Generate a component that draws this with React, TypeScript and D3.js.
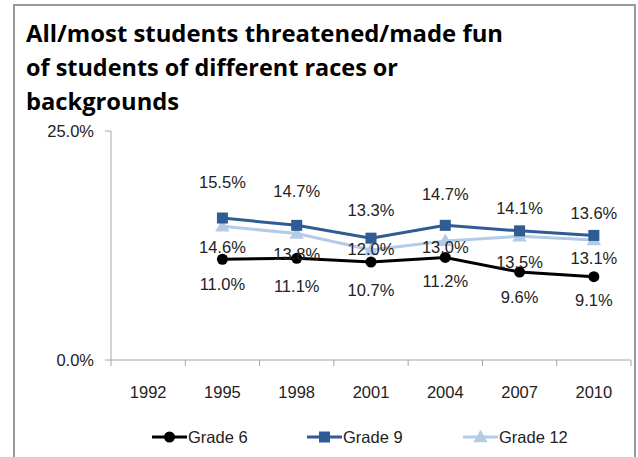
import React from "react";
import * as d3 from "d3";

// Survey years (category axis) and the share of grades reporting the behaviour
const years = ["1992", "1995", "1998", "2001", "2004", "2007", "2010"];
const grade6 = [null, 11.0, 11.1, 10.7, 11.2, 9.6, 9.1];
const grade9 = [null, 15.5, 14.7, 13.3, 14.7, 14.1, 13.6];
const grade12 = [null, 14.6, 13.8, 12.0, 13.0, 13.5, 13.1];
const yTicks = [0, 25];

// Vertical nudges of each data label relative to its point (px)
const grade6LabelDy = [0, 31, 34, 34, 30, 31, 29];
const grade9LabelDy = [0, -30, -28, -22, -25, -17, -16];
const grade12LabelDy = [0, 27, 26, 5, 12, 32, 24];

const titleLines = [
  "All/most students threatened/made fun",
  "of students of different races or",
  "backgrounds",
];
const titleWidths = [477, 372, 153];

const W = 638;
const H = 457;
const FONT = "'Liberation Sans', Arial, sans-serif";
const FS = 16.5;

type Series = {
  name: string;
  values: (number | null)[];
  color: string;
  marker: "circle" | "square" | "triangle";
  dy: number[];
};

const series: Series[] = [
  { name: "Grade 6", values: grade6, color: "#000000", marker: "circle", dy: grade6LabelDy },
  { name: "Grade 9", values: grade9, color: "#2F5C94", marker: "square", dy: grade9LabelDy },
  { name: "Grade 12", values: grade12, color: "#B4CBE6", marker: "triangle", dy: grade12LabelDy },
];

function Marker({ kind, x, y, color }: { kind: string; x: number; y: number; color: string }) {
  if (kind === "circle") return <circle cx={x} cy={y} r={5.5} fill={color} />;
  if (kind === "square")
    return <rect x={x - 5.5} y={y - 5.5} width={11} height={11} fill={color} />;
  const tri = d3.symbol(d3.symbolTriangle, 90)();
  return <path d={tri || ""} transform={`translate(${x},${y + 1})`} fill={color} />;
}

export default function App() {
  const x = d3.scaleBand<string>().domain(years).range([111, 631]).padding(0);
  const y = d3.scaleLinear().domain([0, 25]).range([360, 131]);
  const cx = (yr: string) => (x(yr) as number) + x.bandwidth() / 2;

  const line = d3
    .line<{ yr: string; v: number | null }>()
    .defined((d) => d.v !== null)
    .x((d) => cx(d.yr))
    .y((d) => y(d.v as number));

  const boundaries = years.map((yr) => x(yr) as number).concat([631]);

  const legendItems = [
    { s: series[0], x0: 152 },
    { s: series[1], x0: 307 },
    { s: series[2], x0: 463 },
  ];

  return (
    <svg
      width={W}
      height={H}
      style={{ position: "fixed", left: 0, top: 0, background: "#fff" }}
      fontFamily={FONT}
    >
      <rect x={0} y={0} width={W} height={H} fill="#fff" />
      {/* chart frame */}
      <path d={`M14,${H + 2} V5 H635 V${H + 2}`} fill="none" stroke="#999" strokeWidth={2} />

      {/* title */}
      {titleLines.map((t, i) => (
        <text
          key={t}
          x={26}
          y={42 + i * 34}
          fontFamily="'Open Sans', 'Noto Sans', sans-serif"
          fontWeight="bold"
          fontSize={24}
          textLength={titleWidths[i]}
          lengthAdjust="spacingAndGlyphs"
          fill="#000"
        >
          {t}
        </text>
      ))}

      {/* axes */}
      <line x1={111} x2={111} y1={131} y2={360} stroke="#A6A6A6" />
      <line x1={111} x2={631} y1={360} y2={360} stroke="#A6A6A6" />
      {yTicks.map((t) => (
        <g key={t}>
          <line x1={105} x2={111} y1={y(t)} y2={y(t)} stroke="#A6A6A6" />
          <text x={94} y={y(t)} dy="0.36em" textAnchor="end" fontSize={FS} fill="#222">
            {t.toFixed(1)}%
          </text>
        </g>
      ))}
      {boundaries.map((b, i) => (
        <line key={i} x1={b} x2={b} y1={360} y2={366} stroke="#A6A6A6" />
      ))}
      {years.map((yr) => (
        <text key={yr} x={cx(yr)} y={392} dy="0.36em" textAnchor="middle" fontSize={FS} fill="#222">
          {yr}
        </text>
      ))}

      {/* series lines (lighter series drawn first) */}
      {[series[2], series[1], series[0]].map((s) => {
        const pts = years.map((yr, i) => ({ yr, v: s.values[i] }));
        return (
          <g key={s.name}>
            <path d={line(pts) || ""} fill="none" stroke={s.color} strokeWidth={3} />
            {pts
              .filter((p) => p.v !== null)
              .map((p) => (
                <Marker key={p.yr} kind={s.marker} x={cx(p.yr)} y={y(p.v as number)} color={s.color} />
              ))}
          </g>
        );
      })}

      {/* data labels */}
      {series.map((s) =>
        years.map((yr, i) =>
          s.values[i] === null ? null : (
            <text
              key={s.name + yr}
              x={cx(yr)}
              y={y(s.values[i] as number) + s.dy[i]}
              textAnchor="middle"
              fontSize={FS}
              fill="#222"
            >
              {(s.values[i] as number).toFixed(1)}%
            </text>
          )
        )
      )}

      {/* legend */}
      {legendItems.map(({ s, x0 }) => (
        <g key={s.name}>
          <line x1={x0} x2={x0 + 35} y1={437} y2={437} stroke={s.color} strokeWidth={3} />
          <Marker kind={s.marker} x={x0 + 17.5} y={437} color={s.color} />
          <text x={x0 + 36} y={437} dy="0.36em" fontSize={FS} fill="#222">
            {s.name}
          </text>
        </g>
      ))}
    </svg>
  );
}
